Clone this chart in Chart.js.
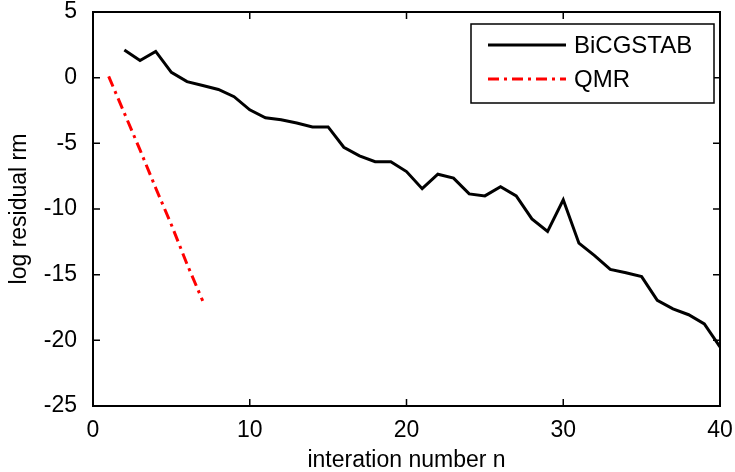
<!DOCTYPE html>
<html>
<head>
<meta charset="utf-8">
<script src="https://cdn.jsdelivr.net/npm/chart.js@4.4.1/dist/chart.umd.min.js"></script>
<style>
  body { margin: 0; background: #fff; }
</style>
</head>
<body>
<canvas id="residual-chart" width="735" height="472"></canvas>

<script>
// values
var bicgIter = [2, 3, 4, 5, 6, 7, 8, 9, 10, 11, 12, 13, 14, 15, 16, 17, 18, 19, 20, 21,
                22, 23, 24, 25, 26, 27, 28, 29, 30, 31, 32, 33, 34, 35, 36, 37, 38, 39, 40];
var bicgRes = [2.1, 1.3, 2.0, 0.4, -0.3, -0.6, -0.9, -1.45, -2.45, -3.05, -3.2, -3.45, -3.75, -3.75,
               -5.3, -5.95, -6.4, -6.4, -7.15, -8.45, -7.35, -7.65, -8.85, -9.0, -8.3, -9.0,
               -10.75, -11.7, -9.3, -12.6, -13.55, -14.6, -14.85, -15.15, -16.95, -17.6, -18.05,
               -18.75, -20.5];
var qmrIter = [1, 2, 3, 4, 5, 6, 7];
var qmrRes = [0.1, -2.7, -5.5, -8.4, -11.2, -14.2, -17.0];
var xTicks = [0, 10, 20, 30, 40];
var yTicks = [-25, -20, -15, -10, -5, 0, 5];

var FONT = "'Liberation Sans', Arial, sans-serif";

function toPoints(xs, ys) {
  return xs.map(function (x, i) { return { x: x, y: ys[i] }; });
}

// box, inward ticks and legend like a matlab figure
var matlabFrame = {
  id: 'matlabFrame',
  afterDatasetsDraw: function (chart) {
    var ctx = chart.ctx, a = chart.chartArea;
    var xs = chart.scales.x, ys = chart.scales.y;
    var tl = 7;
    ctx.save();
    ctx.strokeStyle = '#000';
    ctx.lineWidth = 2;
    ctx.strokeRect(a.left, a.top, a.right - a.left, a.bottom - a.top);
    ctx.beginPath();
    xTicks.forEach(function (v) {
      var px = xs.getPixelForValue(v);
      ctx.moveTo(px, a.bottom); ctx.lineTo(px, a.bottom - tl);
      ctx.moveTo(px, a.top); ctx.lineTo(px, a.top + tl);
    });
    yTicks.forEach(function (v) {
      var py = ys.getPixelForValue(v);
      ctx.moveTo(a.left, py); ctx.lineTo(a.left + tl, py);
      ctx.moveTo(a.right, py); ctx.lineTo(a.right - tl, py);
    });
    ctx.lineWidth = 1.5;
    ctx.stroke();

    // legend
    var bx = 471, by = 24, bw = 243, bh = 79;
    ctx.fillStyle = '#fff';
    ctx.fillRect(bx, by, bw, bh);
    ctx.lineWidth = 1.5;
    ctx.strokeRect(bx, by, bw, bh);
    var rows = [45, 79];
    chart.data.datasets.forEach(function (ds, i) {
      ctx.beginPath();
      ctx.strokeStyle = ds.borderColor;
      ctx.lineWidth = ds.borderWidth;
      ctx.setLineDash(ds.borderDash || []);
      ctx.moveTo(488, rows[i]);
      ctx.lineTo(566, rows[i]);
      ctx.stroke();
      ctx.setLineDash([]);
      ctx.fillStyle = '#000';
      ctx.font = '24px ' + FONT;
      ctx.textBaseline = 'middle';
      ctx.textAlign = 'left';
      ctx.fillText(ds.label, 574, rows[i] + 1);
    });
    ctx.restore();
  }
};

var ctxRes = document.getElementById('residual-chart');

var residual = new Chart(ctxRes, {
  type: 'line',
  data: {
    datasets: [{
      label: 'BiCGSTAB',
      data: toPoints(bicgIter, bicgRes),
      borderColor: '#000',
      borderWidth: 3,
      pointRadius: 0,
      fill: false,
      tension: 0
    }, {
      label: 'QMR',
      data: toPoints(qmrIter, qmrRes),
      borderColor: '#ff0000',
      borderWidth: 3,
      borderDash: [11, 5, 3, 5],
      pointRadius: 0,
      fill: false,
      tension: 0
    }]
  },
  options: {
    responsive: false,
    animation: false,
    layout: { padding: 0 },
    plugins: {
      legend: { display: false },
      tooltip: { enabled: false }
    },
    scales: {
      x: {
        type: 'linear',
        min: 0, max: 40,
        afterFit: function (s) { s.height = 66; s.paddingLeft = 0; s.paddingRight = 15; },
        afterBuildTicks: function (s) { s.ticks = xTicks.map(function (v) { return { value: v }; }); },
        grid: { display: false },
        border: { display: false },
        ticks: { color: '#000', padding: 3, font: { family: FONT, size: 23 } },
        title: {
          display: true,
          text: 'interation number n',
          color: '#000',
          padding: { top: 0, bottom: 0 },
          font: { family: FONT, size: 23, lineHeight: 1 }
        }
      },
      y: {
        type: 'linear',
        min: -25, max: 5,
        afterFit: function (s) { s.width = 93; s.paddingTop = 12; s.paddingBottom = 0; },
        afterBuildTicks: function (s) { s.ticks = yTicks.map(function (v) { return { value: v }; }); },
        grid: { display: false },
        border: { display: false },
        ticks: { color: '#000', padding: 8, font: { family: FONT, size: 23 } },
        title: {
          display: true,
          text: 'log residual rm',
          color: '#000',
          padding: { top: 8, bottom: 0 },
          font: { family: FONT, size: 23, lineHeight: 1 }
        }
      }
    }
  },
  plugins: [matlabFrame]
});
</script>
</body>
</html>
